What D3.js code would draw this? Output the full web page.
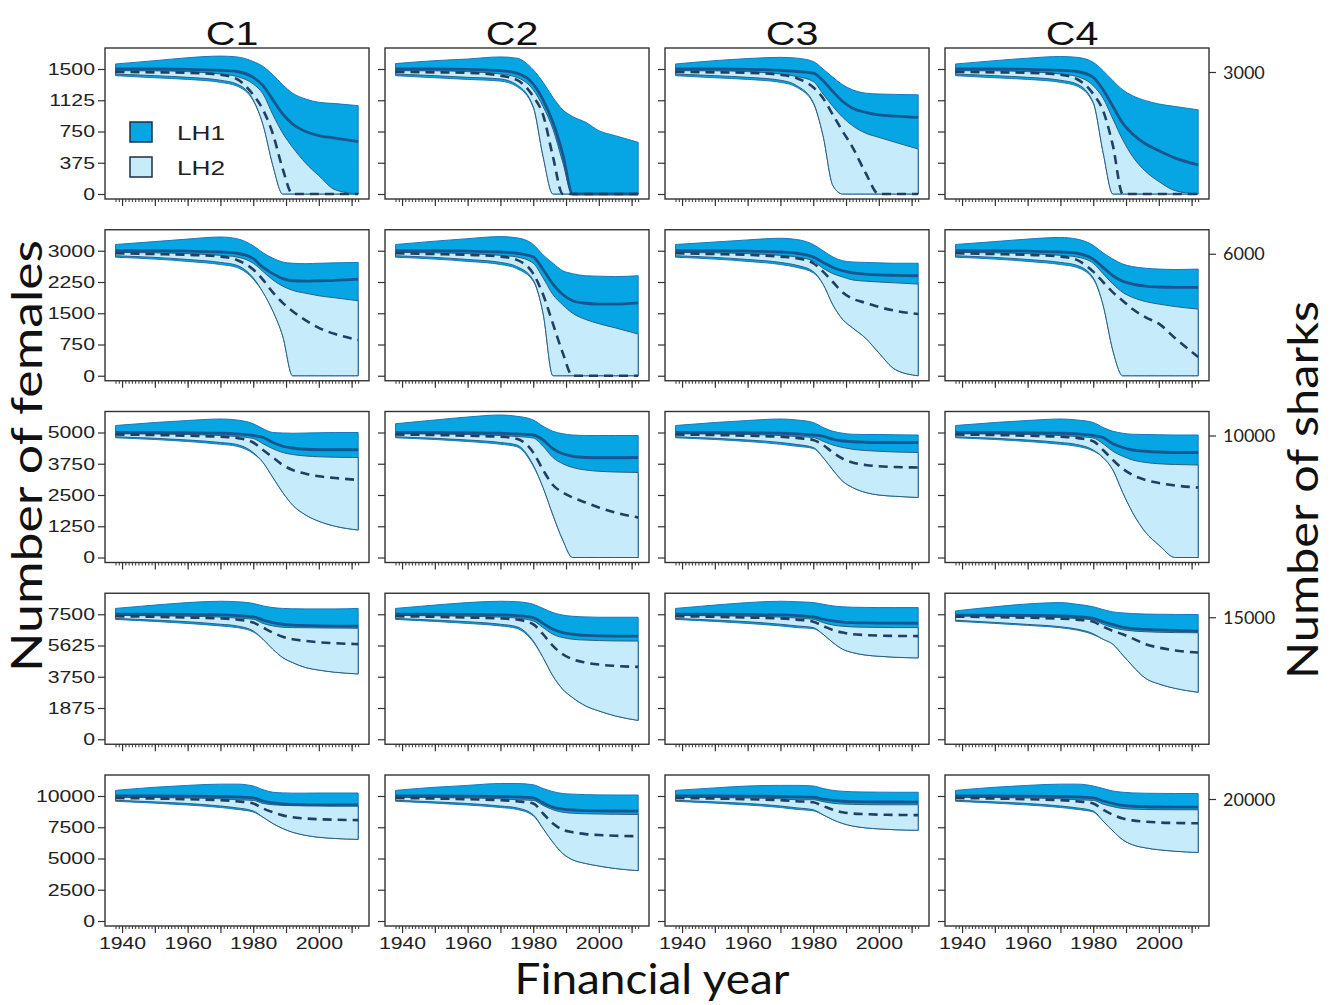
<!DOCTYPE html>
<html><head><meta charset="utf-8">
<script src="https://cdn.jsdelivr.net/npm/d3@7"></script>
<style>body{margin:0;background:#fff} svg{display:block}</style>
</head><body><svg id="chart" width="1330" height="1005"></svg>
<script>
const years = [1938,1950,1960,1970,1975,1980,1983,1986,1989,1992,1996,2000,2005,2012];
const scenarios = ["C1","C2","C3","C4"];
const femaleTicks = [[0,375,750,1125,1500],[0,750,1500,2250,3000],[0,1250,2500,3750,5000],[0,1875,3750,5625,7500],[0,2500,5000,7500,10000]];
const sharkLabels = ["3000","6000","10000","15000","20000"];
const yearLabels = [1940,1960,1980,2000];
const legendLabels = ["LH1","LH2"];

// panels in row-major order: rows = population size, columns = C1..C4
const lh1Upper = [
[1560,1600,1635,1655,1645,1590,1530,1430,1310,1210,1140,1100,1085,1060],
[1565,1600,1620,1645,1630,1490,1340,1160,1010,930,860,760,700,620],
[1560,1600,1625,1640,1630,1590,1500,1400,1310,1250,1210,1200,1195,1190],
[1560,1600,1630,1650,1640,1580,1480,1360,1250,1180,1120,1080,1050,1010],
[3150,3220,3280,3330,3290,3120,2950,2820,2730,2700,2690,2700,2710,2720],
[3150,3230,3290,3340,3310,3150,2900,2700,2520,2450,2400,2390,2380,2400],
[3150,3210,3260,3300,3270,3150,3000,2850,2760,2730,2720,2710,2700,2700],
[3150,3220,3280,3320,3280,3130,2950,2800,2680,2620,2580,2560,2550,2560],
[5280,5400,5480,5540,5500,5350,5150,5000,4980,4970,4980,4990,5000,5000],
[5350,5500,5620,5700,5650,5500,5250,5050,4950,4900,4880,4880,4880,4880],
[5280,5400,5480,5540,5500,5400,5200,5050,4970,4930,4920,4920,4910,4900],
[5280,5400,5480,5540,5500,5400,5200,5050,4970,4930,4920,4910,4900,4900],
[7850,8050,8200,8280,8250,8150,8000,7900,7850,7830,7820,7820,7820,7850],
[7850,8050,8200,8280,8250,8100,7850,7600,7450,7380,7340,7320,7320,7320],
[7850,8050,8200,8280,8250,8200,8100,8000,7950,7920,7910,7900,7900,7900],
[7700,7950,8120,8200,8100,7950,7780,7640,7580,7540,7510,7500,7490,7480],
[10450,10700,10850,10950,10950,10800,10500,10300,10250,10230,10230,10240,10240,10240],
[10450,10700,10850,11000,11000,10900,10600,10350,10200,10150,10110,10090,10080,10080],
[10450,10650,10800,10850,10850,10800,10600,10450,10380,10340,10320,10310,10300,10300],
[10450,10700,10850,10950,10950,10800,10600,10400,10300,10250,10220,10210,10200,10200]];

const lh1Median = [
[1500,1500,1495,1485,1470,1400,1300,1130,960,840,750,700,670,630],
[1500,1500,1495,1480,1450,1320,1130,860,480,0,0,0,0,0],
[1500,1500,1495,1485,1470,1450,1360,1230,1110,1030,980,950,935,920],
[1500,1500,1495,1485,1470,1400,1250,1050,850,720,600,520,430,350],
[3000,3000,2990,2970,2940,2810,2600,2450,2330,2280,2270,2280,2290,2320],
[3000,3000,2990,2970,2940,2850,2550,2200,1950,1800,1740,1720,1720,1750],
[3000,3000,2990,2970,2940,2850,2720,2600,2520,2470,2440,2420,2410,2400],
[3000,3000,2990,2970,2940,2800,2600,2400,2270,2200,2150,2130,2120,2120],
[5000,5000,4990,4970,4940,4880,4800,4600,4450,4380,4330,4310,4310,4310],
[5000,5000,4990,4970,4940,4900,4700,4350,4150,4050,4000,3990,3990,4000],
[5000,5000,4990,4970,4940,4900,4850,4730,4660,4630,4610,4600,4600,4600],
[5000,5000,4990,4970,4940,4880,4800,4550,4400,4300,4250,4220,4200,4200],
[7500,7500,7490,7460,7420,7350,7150,7000,6900,6850,6820,6800,6790,6790],
[7500,7500,7490,7460,7420,7300,6950,6600,6400,6300,6230,6200,6190,6190],
[7500,7500,7490,7460,7420,7350,7200,7100,7030,7000,6980,6970,6965,6960],
[7450,7450,7430,7400,7350,7250,7050,6880,6720,6640,6590,6560,6530,6490],
[10000,10000,9990,9960,9920,9850,9600,9450,9370,9330,9300,9290,9280,9280],
[10000,10000,9990,9960,9920,9850,9450,9100,8950,8880,8830,8810,8800,8790],
[10000,10000,9990,9960,9920,9900,9750,9650,9580,9550,9530,9520,9520,9516],
[10000,10000,9990,9960,9920,9850,9600,9400,9250,9180,9140,9120,9110,9110]];

const lh1Lower = [
[1420,1395,1375,1340,1295,1120,830,340,0,0,0,0,0,0],
[1420,1395,1375,1355,1290,1040,450,0,0,0,0,0,0,0],
[1420,1395,1375,1340,1280,1090,700,100,0,0,0,0,0,0],
[1420,1395,1375,1340,1295,1090,500,0,0,0,0,0,0,0],
[2845,2800,2745,2670,2600,2320,2000,1550,950,0,0,0,0,0],
[2845,2800,2745,2670,2570,2270,1500,0,0,0,0,0,0,0],
[2845,2800,2745,2670,2600,2470,2200,1700,1350,1150,900,550,150,0],
[2845,2800,2745,2670,2600,2320,1700,600,0,0,0,0,0,0],
[4790,4720,4640,4530,4450,4160,3800,3200,2600,2100,1700,1450,1250,1100],
[4790,4720,4640,4530,4430,3660,2800,1700,700,0,0,0,0,0],
[4790,4720,4640,4530,4450,4360,4000,3500,3050,2800,2600,2500,2450,2400],
[4790,4720,4640,4530,4450,4260,4000,3500,2600,1800,1000,500,0,0],
[7190,7070,6950,6800,6700,6440,6000,5400,4900,4600,4300,4150,4020,3920],
[7190,7070,6950,6800,6650,5840,4900,3800,3000,2500,2000,1700,1400,1130],
[7190,7070,6950,6800,6700,6640,6300,5800,5400,5200,5050,4980,4920,4880],
[7080,6950,6830,6690,6550,6280,6000,5700,5050,4400,3650,3320,3050,2820],
[9580,9430,9280,9080,8930,8720,8300,7800,7400,7100,6850,6700,6600,6530],
[9580,9430,9280,9080,8930,8420,7400,6300,5400,4900,4600,4400,4200,4030],
[9580,9430,9280,9080,8930,8820,8500,8100,7800,7600,7450,7370,7300,7260],
[9580,9430,9280,9080,8930,8720,8000,7200,6500,6100,5850,5700,5580,5480]];

const lh2Upper = [
[1480,1478,1468,1440,1410,1320,1200,950,730,560,370,220,50,0],
[1480,1478,1468,1440,1400,1250,1050,780,380,0,0,0,0,0],
[1480,1478,1468,1440,1410,1350,1200,1050,920,820,730,680,620,540],
[1480,1478,1468,1440,1410,1300,1150,900,650,450,270,150,40,0],
[2960,2950,2930,2890,2850,2700,2500,2300,2150,2050,1980,1920,1870,1800],
[2960,2950,2930,2890,2850,2700,2350,1950,1700,1500,1350,1250,1150,1000],
[2960,2950,2930,2890,2850,2750,2580,2450,2370,2300,2270,2250,2230,2200],
[2960,2950,2930,2890,2850,2700,2450,2200,2000,1880,1780,1720,1660,1600],
[4950,4940,4920,4880,4840,4760,4550,4350,4200,4120,4060,4030,4010,4000],
[4950,4940,4920,4880,4840,4780,4450,4000,3750,3600,3500,3450,3420,3400],
[4950,4940,4920,4880,4840,4800,4650,4500,4400,4330,4280,4250,4220,4200],
[4950,4940,4920,4880,4840,4780,4550,4250,4050,3900,3800,3750,3720,3700],
[7430,7410,7380,7330,7270,7200,6950,6800,6720,6700,6690,6680,6670,6660],
[7430,7410,7380,7330,7270,7100,6700,6300,6100,6000,5950,5920,5900,5890],
[7430,7410,7380,7330,7270,7200,7000,6850,6780,6740,6720,6710,6700,6700],
[7400,7380,7350,7300,7240,7150,6900,6700,6570,6500,6450,6420,6400,6390],
[9900,9880,9840,9780,9700,9650,9400,9300,9250,9230,9220,9210,9200,9200],
[9900,9880,9840,9780,9700,9650,9250,8900,8700,8620,8580,8560,8540,8520],
[9900,9880,9840,9780,9700,9700,9550,9420,9360,9330,9310,9300,9300,9300],
[9900,9880,9840,9780,9700,9650,9350,9150,9000,8950,8920,8910,8900,8900]];

const lh2Median = [
[1465,1460,1455,1430,1380,1190,1010,720,300,0,0,0,0,0],
[1465,1460,1455,1420,1370,1170,950,450,0,0,0,0,0,0],
[1465,1460,1455,1430,1390,1280,1150,950,750,560,250,0,0,0],
[1465,1460,1455,1430,1380,1200,1000,580,0,0,0,0,0,0],
[2940,2920,2900,2860,2780,2550,2300,2000,1750,1550,1330,1150,1000,860],
[2940,2920,2900,2860,2780,2450,1950,1250,550,0,0,0,0,0],
[2940,2920,2900,2860,2820,2700,2500,2250,2000,1850,1750,1650,1560,1480],
[2940,2920,2900,2860,2780,2500,2250,2000,1800,1600,1400,1250,900,450],
[4920,4900,4870,4830,4780,4600,4300,4000,3700,3500,3350,3250,3180,3100],
[4920,4900,4870,4830,4750,4200,3500,2900,2600,2400,2200,2000,1800,1600],
[4920,4900,4870,4830,4780,4700,4500,4200,3950,3800,3700,3650,3620,3600],
[4920,4900,4870,4830,4780,4650,4300,3900,3550,3300,3100,2980,2880,2800],
[7380,7350,7300,7250,7180,7000,6700,6400,6150,6000,5900,5820,5760,5710],
[7380,7350,7300,7250,7180,6900,6300,5600,5100,4800,4600,4480,4400,4340],
[7380,7350,7300,7250,7180,7050,6800,6550,6400,6300,6250,6220,6200,6190],
[7360,7330,7290,7240,7180,7050,6750,6500,6300,6050,5700,5500,5330,5200],
[9840,9800,9740,9670,9580,9400,9000,8700,8450,8300,8200,8140,8100,8070],
[9840,9800,9740,9670,9580,9400,8600,7800,7300,7100,6950,6880,6820,6780],
[9840,9800,9740,9670,9580,9500,9200,8900,8700,8600,8550,8510,8490,8470],
[9840,9800,9740,9670,9580,9400,8900,8500,8200,8050,7950,7880,7840,7820]];

const lh2Lower = [
[1440,1420,1400,1365,1320,1130,830,340,0,0,0,0,0,0],
[1440,1420,1400,1380,1310,1050,450,0,0,0,0,0,0,0],
[1440,1420,1400,1365,1300,1100,700,100,0,0,0,0,0,0],
[1440,1420,1400,1365,1320,1100,500,0,0,0,0,0,0,0],
[2880,2840,2790,2720,2650,2350,2000,1550,950,0,0,0,0,0],
[2880,2840,2790,2720,2620,2300,1500,0,0,0,0,0,0,0],
[2880,2840,2790,2720,2650,2500,2200,1700,1350,1150,900,550,150,0],
[2880,2840,2790,2720,2650,2350,1700,600,0,0,0,0,0,0],
[4830,4770,4700,4600,4520,4200,3800,3200,2600,2100,1700,1450,1250,1100],
[4830,4770,4700,4600,4500,3700,2800,1700,700,0,0,0,0,0],
[4830,4770,4700,4600,4520,4400,4000,3500,3050,2800,2600,2500,2450,2400],
[4830,4770,4700,4600,4520,4300,4000,3500,2600,1800,1000,500,0,0],
[7250,7150,7050,6900,6800,6500,6000,5400,4900,4600,4300,4150,4020,3920],
[7250,7150,7050,6900,6750,5900,4900,3800,3000,2500,2000,1700,1400,1130],
[7250,7150,7050,6900,6800,6700,6300,5800,5400,5200,5050,4980,4920,4880],
[7140,7010,6890,6750,6610,6330,6000,5700,5050,4400,3650,3320,3050,2820],
[9660,9530,9400,9200,9050,8800,8300,7800,7400,7100,6850,6700,6600,6530],
[9660,9530,9400,9200,9050,8500,7400,6300,5400,4900,4600,4400,4200,4030],
[9660,9530,9400,9200,9050,8900,8500,8100,7800,7600,7450,7370,7300,7260],
[9660,9530,9400,9200,9050,8800,8000,7200,6500,6100,5850,5700,5580,5480]];

// ---------- layout & style ----------
const C_LH1 = "#05a6e3", C_LH2 = "#c6ebfa", C_MED1 = "#17578f", C_MED2 = "#213f62",
      C_EDGE1 = "#1a78b8", C_EDGE2 = "#2d5e80", C_AXIS = "#333";
const W = 264, H = 151;
const colX = j => 105 + 280 * j;
const rowY = i => 48 + 181.75 * i;
const SX = 1.25; // horizontal stretch of the original figure's text

const svg = d3.select("#chart");
const x = d3.scaleLinear().domain([1934.8, 2015.3]).range([0, W]);

function stretchText(sel, sx) {
  sel.each(function () {
    const t = d3.select(this);
    const xx = +t.attr("x") || 0;
    t.attr("x", 0).attr("transform", `translate(${xx},0) scale(${sx},1)`);
  });
}

const defs = svg.append("defs");
defs.append("clipPath").attr("id", "pclip").append("rect").attr("width", W).attr("height", H);

for (let i = 0; i < 5; i++) {
  const top = femaleTicks[i][femaleTicks[i].length - 1];
  const y = d3.scaleLinear().domain([0, top]).range([146, 21]);
  for (let j = 0; j < 4; j++) {
    const p = i * 4 + j;
    const g = svg.append("g").attr("transform", `translate(${colX(j)},${rowY(i)})`);
    const plot = g.append("g").attr("clip-path", "url(#pclip)");
    const band1 = years.map((yr, k) => [yr, lh1Lower[p][k], lh1Upper[p][k]]);
    const band2 = years.map((yr, k) => [yr, lh2Lower[p][k], lh2Upper[p][k]]);
    const area = d3.area().x(d => x(d[0])).y0(d => y(d[1])).y1(d => y(d[2])).curve(d3.curveMonotoneX);
    const line = d3.line().x(d => x(d[0])).y(d => y(d[1])).curve(d3.curveMonotoneX);
    plot.append("path").attr("d", area(band1)).attr("fill", C_LH1).attr("stroke", C_EDGE1).attr("stroke-width", 1);
    plot.append("path").attr("d", area(band2)).attr("fill", C_LH2).attr("stroke", C_EDGE2).attr("stroke-width", 1);
    plot.append("path").attr("d", line(years.map((yr, k) => [yr, lh1Median[p][k]])))
      .attr("fill", "none").attr("stroke", C_MED1).attr("stroke-width", 2.8);
    plot.append("path").attr("d", line(years.map((yr, k) => [yr, lh2Median[p][k]])))
      .attr("fill", "none").attr("stroke", C_MED2).attr("stroke-width", 2.6).attr("stroke-dasharray", "9,6");

    g.append("rect").attr("width", W).attr("height", H).attr("fill", "none")
      .attr("stroke", C_AXIS).attr("stroke-width", 1.4);

    // left axis
    const ya = g.append("g")
      .call(d3.axisLeft(y).tickValues(femaleTicks[i]).tickSize(7).tickPadding(3)
        .tickFormat(j === 0 ? d3.format("d") : () => ""));
    ya.select(".domain").remove();
    ya.selectAll("line").attr("stroke", C_AXIS).attr("stroke-width", 1.2);
    ya.selectAll("text").attr("font-family", "Liberation Sans, Arial, sans-serif").attr("font-size", 17).attr("fill", "#222");
    stretchText(ya.selectAll("text"), SX);

    // bottom axis: minor (yearly) and major (decade) ticks
    const minor = g.append("g").attr("transform", `translate(0,${H})`)
      .call(d3.axisBottom(x).tickValues(d3.range(1938, 2013)).tickSize(3).tickFormat(() => ""));
    minor.select(".domain").remove();
    minor.selectAll("line").attr("stroke", C_AXIS).attr("stroke-width", 1);
    const major = g.append("g").attr("transform", `translate(0,${H})`)
      .call(d3.axisBottom(x).tickValues(d3.range(1940, 2011, 10)).tickSize(7).tickPadding(4)
        .tickFormat(d => (i === 4 && yearLabels.includes(d)) ? String(d) : ""));
    major.select(".domain").remove();
    major.selectAll("line").attr("stroke", C_AXIS).attr("stroke-width", 1.2);
    major.selectAll("text").attr("font-family", "Liberation Sans, Arial, sans-serif").attr("font-size", 17).attr("fill", "#222");
    stretchText(major.selectAll("text"), SX);

    // right axis (number of sharks)
    if (j === 3) {
      const ra = g.append("g").attr("transform", `translate(${W},0)`)
        .call(d3.axisRight(y).tickValues([top]).tickSize(7).tickPadding(7).tickFormat(() => sharkLabels[i]));
      ra.select(".domain").remove();
      ra.selectAll("line").attr("stroke", C_AXIS).attr("stroke-width", 1.2)
        .attr("transform", "translate(0,3)");
      ra.selectAll("text").attr("font-family", "Lato, sans-serif").attr("font-size", 18).attr("fill", "#222")
        .attr("dy", "0.5em");
    }

    // column titles
    if (i === 0) {
      svg.append("text").attr("transform", `translate(${colX(j) + W / 2 - 5},45) scale(${SX},1)`)
        .attr("text-anchor", "middle").attr("font-family", "Liberation Sans, Arial, sans-serif")
        .attr("font-size", 33).attr("fill", "#111").text(scenarios[j]);
    }

    // legend
    if (i === 0 && j === 0) {
      const lg = g.append("g");
      const fills = [C_LH1, C_LH2];
      legendLabels.forEach((lab, k) => {
        lg.append("rect").attr("x", 25).attr("y", 74 + k * 35).attr("width", 22).attr("height", 20)
          .attr("fill", fills[k]).attr("stroke", "#1d2f44").attr("stroke-width", 1.5);
        lg.append("text").attr("transform", `translate(72,${92 + k * 35}) scale(${SX},1)`)
          .attr("font-family", "Liberation Sans, Arial, sans-serif").attr("font-size", 21).attr("fill", "#222").text(lab);
      });
    }
  }
}

// axis titles
svg.append("text").attr("x", 652).attr("y", 994).attr("text-anchor", "middle")
  .attr("font-family", "Lato, sans-serif").attr("font-size", 42).attr("fill", "#111")
  .attr("textLength", 275).attr("lengthAdjust", "spacingAndGlyphs").text("Financial year");
svg.append("text").attr("transform", "translate(42,456) rotate(-90)").attr("text-anchor", "middle")
  .attr("font-family", "Lato, sans-serif").attr("font-size", 43).attr("fill", "#111")
  .attr("textLength", 432).attr("lengthAdjust", "spacingAndGlyphs").text("Number of females");
svg.append("text").attr("transform", "translate(1318,490) rotate(-90)").attr("text-anchor", "middle")
  .attr("font-family", "Lato, sans-serif").attr("font-size", 42).attr("fill", "#111")
  .attr("textLength", 378).attr("lengthAdjust", "spacingAndGlyphs").text("Number of sharks");
</script></body></html>
